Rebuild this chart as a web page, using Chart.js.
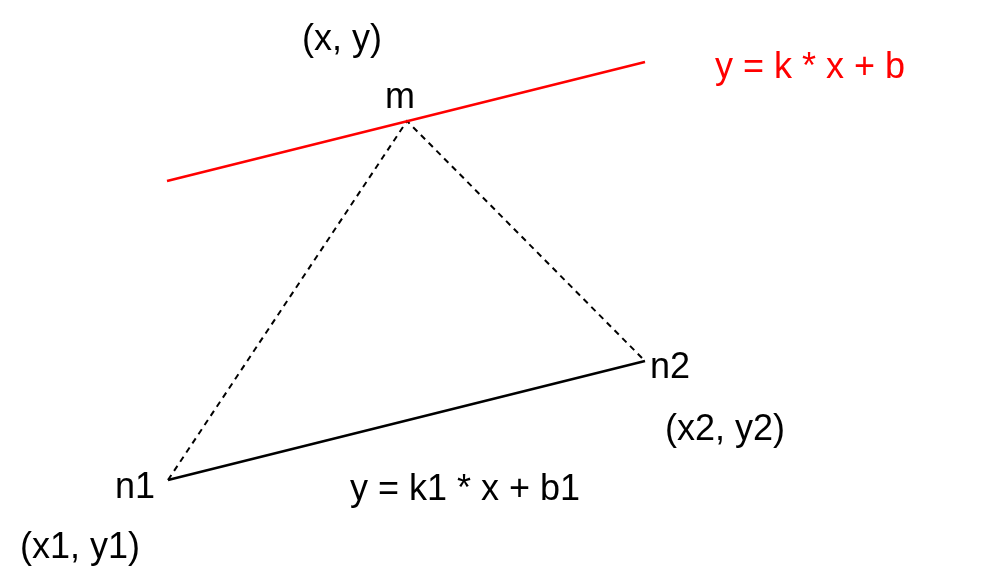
<!DOCTYPE html>
<html>
<head>
<meta charset="utf-8">
<script src="https://cdn.jsdelivr.net/npm/chart.js@4"></script>
<style>
html, body { margin: 0; padding: 0; background: #fff; }
#wrap { width: 987px; height: 573px; }
</style>
</head>
<body>
<div id="wrap"><canvas id="c"></canvas></div>
<script>
// diagram coordinates (pixel-like units, y grows downward)
const redLine = [{x: 167, y: 181}, {x: 645, y: 62}];
const baseLine = [{x: 168, y: 480}, {x: 645, y: 361}];
const dashLine = [{x: 168, y: 480}, {x: 407, y: 121}, {x: 645, y: 361}];

const labelText = ['(x, y)', 'm', 'y = k * x + b', 'n2', '(x2, y2)', 'n1', 'y = k1 * x + b1', '(x1, y1)'];
const labelX = [342, 400, 810, 670, 725, 135, 465, 80];
const labelY = [40, 98, 68, 368, 430, 488, 490, 548];
const labelColor = ['#000', '#000', '#ff0000', '#000', '#000', '#000', '#000', '#000'];

const textPlugin = {
    id: 'labels',
    afterDatasetsDraw(chart) {
        const ctx = chart.ctx;
        const xs = chart.scales.x, ys = chart.scales.y;
        ctx.save();
        ctx.font = '36px "Liberation Sans", Arial, sans-serif';
        ctx.textAlign = 'center';
        ctx.textBaseline = 'middle';
        labelText.forEach((t, i) => {
            ctx.fillStyle = labelColor[i];
            ctx.fillText(t, xs.getPixelForValue(labelX[i]), ys.getPixelForValue(labelY[i]));
        });
        ctx.restore();
    }
};

new Chart(document.getElementById('c'), {
    type: 'scatter',
    data: {
        datasets: [
            { data: redLine, showLine: true, borderColor: '#ff0000', borderWidth: 2.5, pointRadius: 0 },
            { data: baseLine, showLine: true, borderColor: '#000', borderWidth: 2.5, pointRadius: 0 },
            { data: dashLine, showLine: true, borderColor: '#000', borderWidth: 2, borderDash: [6, 5], pointRadius: 0 }
        ]
    },
    options: {
        responsive: true,
        maintainAspectRatio: false,
        animation: false,
        layout: { padding: 0 },
        plugins: { legend: { display: false }, tooltip: { enabled: false } },
        scales: {
            x: { type: 'linear', min: 0, max: 987, display: false },
            y: { type: 'linear', min: 0, max: 573, reverse: true, display: false }
        }
    },
    plugins: [textPlugin]
});
</script>
</body>
</html>
